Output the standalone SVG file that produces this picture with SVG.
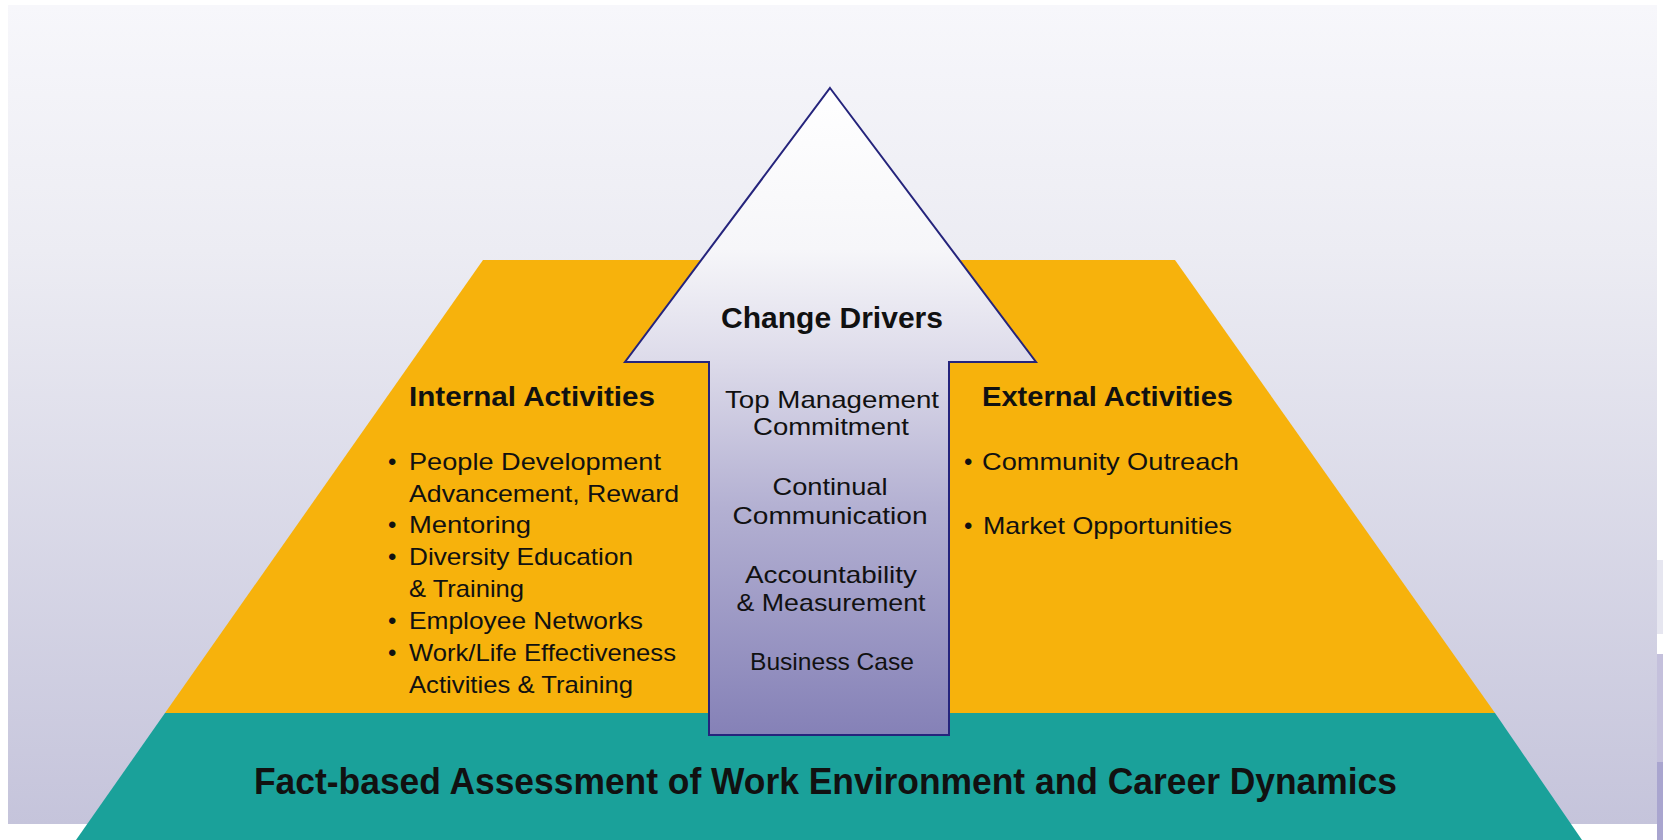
<svg xmlns="http://www.w3.org/2000/svg" width="1663" height="840" viewBox="0 0 1663 840">
  <defs>
    <linearGradient id="bgGrad" x1="0" y1="5" x2="0" y2="824" gradientUnits="userSpaceOnUse">
      <stop offset="0" stop-color="#f7f7fb"/>
      <stop offset="0.3" stop-color="#ececf3"/>
      <stop offset="1" stop-color="#c5c4db"/>
    </linearGradient>
    <linearGradient id="arrowGrad" x1="0" y1="88" x2="0" y2="735" gradientUnits="userSpaceOnUse">
      <stop offset="0" stop-color="#ffffff"/>
      <stop offset="0.25" stop-color="#f6f6f9"/>
      <stop offset="0.42" stop-color="#dddbea"/>
      <stop offset="0.65" stop-color="#b3b0d2"/>
      <stop offset="1" stop-color="#8581b7"/>
    </linearGradient>
    <style>
      .txt { font-family: "Liberation Sans", Arial, sans-serif; fill: #111111; }
      .head { font-weight: bold; font-size: 28px; }
      .item { font-size: 24px; }
      .mid { font-size: 24px; text-anchor: middle; }
      .title { font-weight: bold; font-size: 29px; text-anchor: middle; }
      .base { font-weight: bold; font-size: 37px; }
    </style>
  </defs>

  <!-- page backdrop -->
  <rect x="0" y="0" width="1663" height="840" fill="#ffffff"/>
  <rect x="8" y="5" width="1649" height="819" fill="url(#bgGrad)"/>
  <rect x="1657" y="560" width="6" height="74" fill="#e6e6f0"/>
  <rect x="1657" y="654" width="6" height="108" fill="#c4c0dc"/>
  <rect x="1657" y="762" width="6" height="78" fill="#a9a5cf"/>

  <!-- middle tier of the pyramid -->
  <g id="activities-tier">
    <polygon points="483,260 1175,260 1495,713 165,713" fill="#f7b20c"/>
  </g>

  <!-- foundation tier -->
  <g id="foundation">
    <polygon points="165,713 1495,713 1582,840 76,840" fill="#1aa19a"/>
    <text class="txt base" x="254" y="794" textLength="1143" lengthAdjust="spacingAndGlyphs">Fact-based Assessment of Work Environment and Career Dynamics</text>
  </g>

  <!-- central upward arrow -->
  <g id="change-drivers">
    <path d="M830,88 L1036,362 L949,362 L949,735 L709,735 L709,362 L625,362 Z" fill="url(#arrowGrad)" stroke="#25247c" stroke-width="2" stroke-linejoin="miter"/>
    <text class="txt title" x="832" y="328" textLength="222" lengthAdjust="spacingAndGlyphs">Change Drivers</text>
    <text class="txt mid" x="832" y="408" textLength="214" lengthAdjust="spacingAndGlyphs">Top Management</text>
    <text class="txt mid" x="831" y="435" textLength="156" lengthAdjust="spacingAndGlyphs">Commitment</text>
    <text class="txt mid" x="830" y="495" textLength="115" lengthAdjust="spacingAndGlyphs">Continual</text>
    <text class="txt mid" x="830" y="524" textLength="195" lengthAdjust="spacingAndGlyphs">Communication</text>
    <text class="txt mid" x="831" y="583" textLength="172" lengthAdjust="spacingAndGlyphs">Accountability</text>
    <text class="txt mid" x="831" y="611" textLength="189" lengthAdjust="spacingAndGlyphs">&amp; Measurement</text>
    <text class="txt mid" x="832" y="670" textLength="164" lengthAdjust="spacingAndGlyphs">Business Case</text>
  </g>

  <!-- left column -->
  <g id="internal-activities">
    <text class="txt head" x="409" y="406" textLength="246" lengthAdjust="spacingAndGlyphs">Internal Activities</text>
    <text class="txt item" x="388" y="470">•</text>
    <text class="txt item" x="409" y="470" textLength="252" lengthAdjust="spacingAndGlyphs">People Development</text>
    <text class="txt item" x="409" y="502" textLength="270" lengthAdjust="spacingAndGlyphs">Advancement, Reward</text>
    <text class="txt item" x="388" y="533">•</text>
    <text class="txt item" x="409" y="533" textLength="122" lengthAdjust="spacingAndGlyphs">Mentoring</text>
    <text class="txt item" x="388" y="565">•</text>
    <text class="txt item" x="409" y="565" textLength="224" lengthAdjust="spacingAndGlyphs">Diversity Education</text>
    <text class="txt item" x="409" y="597" textLength="115" lengthAdjust="spacingAndGlyphs">&amp; Training</text>
    <text class="txt item" x="388" y="629">•</text>
    <text class="txt item" x="409" y="629" textLength="234" lengthAdjust="spacingAndGlyphs">Employee Networks</text>
    <text class="txt item" x="388" y="661">•</text>
    <text class="txt item" x="409" y="661" textLength="267" lengthAdjust="spacingAndGlyphs">Work/Life Effectiveness</text>
    <text class="txt item" x="409" y="693" textLength="224" lengthAdjust="spacingAndGlyphs">Activities &amp; Training</text>
  </g>

  <!-- right column -->
  <g id="external-activities">
    <text class="txt head" x="982" y="406" textLength="251" lengthAdjust="spacingAndGlyphs">External Activities</text>
    <text class="txt item" x="964" y="470">•</text>
    <text class="txt item" x="982" y="470" textLength="257" lengthAdjust="spacingAndGlyphs">Community Outreach</text>
    <text class="txt item" x="964" y="534">•</text>
    <text class="txt item" x="983" y="534" textLength="249" lengthAdjust="spacingAndGlyphs">Market Opportunities</text>
  </g>

  <!-- no connectors in this figure -->
  <g id="connectors"/>
</svg>
